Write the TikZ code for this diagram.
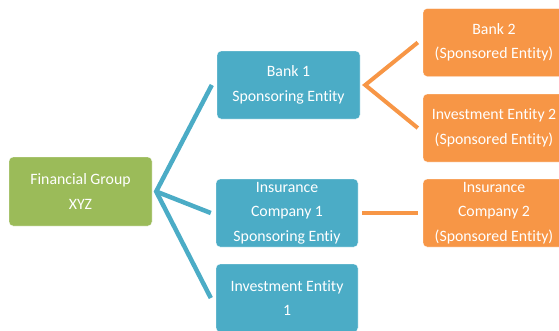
\documentclass[tikz,border=0pt]{standalone}
\usepackage{fontspec}
\setmainfont[Ligatures=NoCommon]{Carlito}
\definecolor{groupgreen}{HTML}{9BBB59}
\definecolor{sponsorblue}{HTML}{4BACC6}
\definecolor{sponsoredorange}{HTML}{F79646}
\tikzstyle{entitybox}=[
      rectangle,
      inner sep = 0pt,
      thin, rounded corners = 4pt,
      draw = white,
      text = white,
      align = center,
      minimum width = 142pt,
      minimum height = 68pt,
      font = \fontsize{15.8}{24.5}\selectfont
      ]
\tikzstyle{greenbox}=[entitybox, fill = groupgreen, minimum width = 143pt, minimum height = 69pt]
\tikzstyle{bluebox}=[entitybox, fill = sponsorblue]
\tikzstyle{orangebox}=[entitybox, fill = sponsoredorange]
\tikzstyle{blueline}=[draw = sponsorblue, line width = 4.5pt, line join = miter]
\tikzstyle{orangeline}=[draw = sponsoredorange, line width = 4pt, line join = miter]
\begin{document}
\begin{tikzpicture}[x=1pt, y=-1pt]
\useasboundingbox (0,0) rectangle (559,330);
\clip (0,0) rectangle (559,330);

\node [greenbox] (group) at (80.5,191.5) {Financial Group\\XYZ};
\node [bluebox, minimum width = 143pt] (bank1) at (288.5,85) {Bank 1\\Sponsoring Entity};
\node [bluebox] (ins1) at (287,213) {Insurance\\Company 1\\Sponsoring Entiy};
\node [bluebox] (inv1) at (287,298) {Investment Entity\\1};
\node [orangebox] (bank2) at (494,42.5) {Bank 2\\(Sponsored Entity)};
\node [orangebox] (inv2) at (494,128) {Investment Entity 2\\(Sponsored Entity)};
\node [orangebox] (ins2) at (494,213) {Insurance\\Company 2\\(Sponsored Entity)};

% group to sponsoring entities
\coordinate (groupfork) at ([xshift=4pt]group.east);
\draw [blueline] ([xshift=-5pt]bank1.west) -- (groupfork) -- ([xshift=-5pt]inv1.west);
\draw [blueline] (groupfork) -- ([xshift=-5pt]ins1.west);

% sponsoring to sponsored entities
\coordinate (bankfork) at ([xshift=5pt]bank1.east);
\draw [orangeline] ([xshift=-5pt]bank2.west) -- (bankfork) -- ([xshift=-5pt]inv2.west);
\draw [orangeline] ([xshift=4pt]ins1.east) -- ([xshift=-5pt]ins2.west);
\end{tikzpicture}
\end{document}
